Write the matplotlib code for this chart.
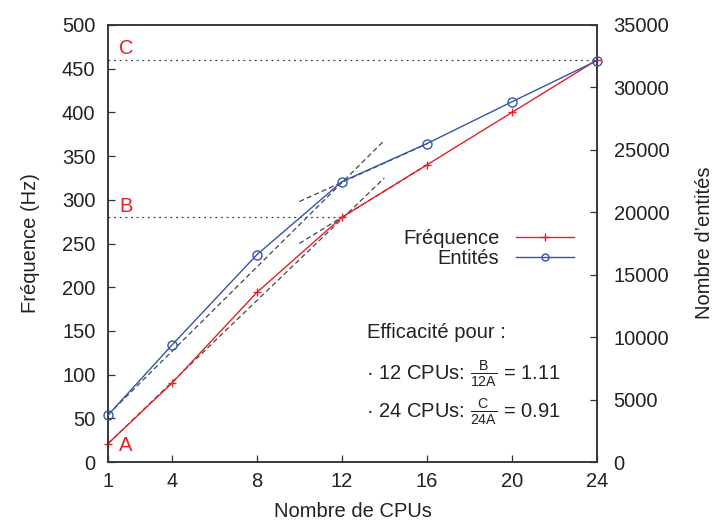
import matplotlib
matplotlib.use("Agg")
import matplotlib.pyplot as plt
from matplotlib.lines import Line2D

plt.rcParams['font.family'] = ['Liberation Sans', 'DejaVu Sans']
plt.rcParams['mathtext.fontset'] = 'custom'
plt.rcParams['mathtext.rm'] = 'Liberation Sans'
plt.rcParams['mathtext.it'] = 'Liberation Sans'
plt.rcParams['mathtext.bf'] = 'Liberation Sans:bold'
plt.rcParams['mathtext.sf'] = 'Liberation Sans'

# ---- data ----
cpus = [1, 4, 8, 12, 16, 20, 24]
frequence = [21, 90, 194, 280, 340, 400, 460]
entites = [3750, 9350, 16600, 22450, 25500, 28850, 32150]
xticks = [1, 4, 8, 12, 16, 20, 24]
yticks_left = list(range(0, 501, 50))
yticks_right = list(range(0, 35001, 5000))

# reference (tangent) lines, in left-axis units
tan_x = [[1, 14], [1, 14], [10, 16], [10, 16]]
tan_y = [[54, 368], [21, 325], [298, 364], [250, 340]]
level_B = 280
level_C = 460
x_B_end = 12

RED = '#e4202a'
BLUE = '#3256a8'
AX = '#333333'
TXT = '#222222'
FS = 14.5

fig = plt.figure(figsize=(7.15, 5.23), dpi=100)
ax = fig.add_axes([108/715, 61/523, 489/715, 437/523])
ax2 = ax.twinx()

# dotted horizontal levels
ax.plot([cpus[0], cpus[-1]], [level_C, level_C], color='#444444', lw=0.9,
        linestyle=(0, (1.5, 3)), zorder=1)
ax.plot([cpus[0], x_B_end], [level_B, level_B], color='#444444', lw=0.9,
        linestyle=(0, (1.5, 3)), zorder=1)

# dashed tangents
for xs, ys in zip(tan_x, tan_y):
    ax.plot(xs, ys, color='#444444', lw=0.9, linestyle=(0, (4, 2.5)), zorder=1)

lf, = ax.plot(cpus, frequence, color=RED, lw=1.0, marker='+', ms=6, mew=1.0,
              clip_on=False, zorder=3)
le, = ax2.plot(cpus, entites, color=BLUE, lw=1.0, marker='o', ms=6.5,
               mfc='none', mew=1.0, clip_on=False, zorder=3)

ax.set_xlim(1, 24)
ax.set_ylim(0, 500)
ax2.set_ylim(0, 35000)
ax.set_xticks(xticks)
ax.set_yticks(yticks_left)
ax2.set_yticks(yticks_right)

for a in (ax, ax2):
    for s in a.spines.values():
        s.set_color(AX)
        s.set_linewidth(1.1)
    a.tick_params(direction='in', length=5, width=0.9, color=AX,
                  labelsize=FS, labelcolor=TXT)
ax.tick_params(axis='y', pad=9)
ax2.tick_params(axis='y', pad=12)
ax.tick_params(axis='x', pad=7)

ax.set_xlabel('Nombre de CPUs', fontsize=FS, color=TXT, labelpad=8)
ax.set_ylabel('Fréquence (Hz)', fontsize=FS, color=TXT, labelpad=16)
fig.text(705/715, 1 - 243/523, 'Nombre d’entités', fontsize=FS, color=TXT,
         rotation=90, ha='center', va='center')

# letters
ax.text(1.85, 473, 'C', color=RED, fontsize=FS, ha='center', va='center')
ax.text(1.85, 292, 'B', color=RED, fontsize=FS, ha='center', va='center')
ax.text(1.85, 19, 'A', color=RED, fontsize=FS, ha='center', va='center')

# efficiency text
fig.text(367/715, 1 - 332/523, 'Efficacité pour :', fontsize=FS, color=TXT,
         va='center', ha='left')
fig.text(366/715, 1 - 374/523, r'· 12 CPUs: $\frac{B}{12A}$ = 1.11',
         fontsize=FS, color=TXT, va='center', ha='left')
fig.text(366/715, 1 - 412/523, r'· 24 CPUs: $\frac{C}{24A}$ = 0.91',
         fontsize=FS, color=TXT, va='center', ha='left')

h1 = Line2D([], [], color=RED, lw=1.0, marker='+', ms=6, mew=1.0)
h2 = Line2D([], [], color=BLUE, lw=1.0, marker='o', ms=5, mfc='none', mew=1.0)
leg = ax2.legend([h1, h2], ['Fréquence', 'Entités'], loc='upper right',
                 bbox_to_anchor=(574/715, 1 - 229/523),
                 bbox_transform=fig.transFigure, frameon=False,
                 markerfirst=False, handlelength=2.9, handletextpad=0.8,
                 labelspacing=0.05, borderpad=0, borderaxespad=0,
                 fontsize=FS, numpoints=1)
for t in leg.get_texts():
    t.set_color(TXT)
    t.set_ha('right')

fig.savefig('out.png', dpi=100)
